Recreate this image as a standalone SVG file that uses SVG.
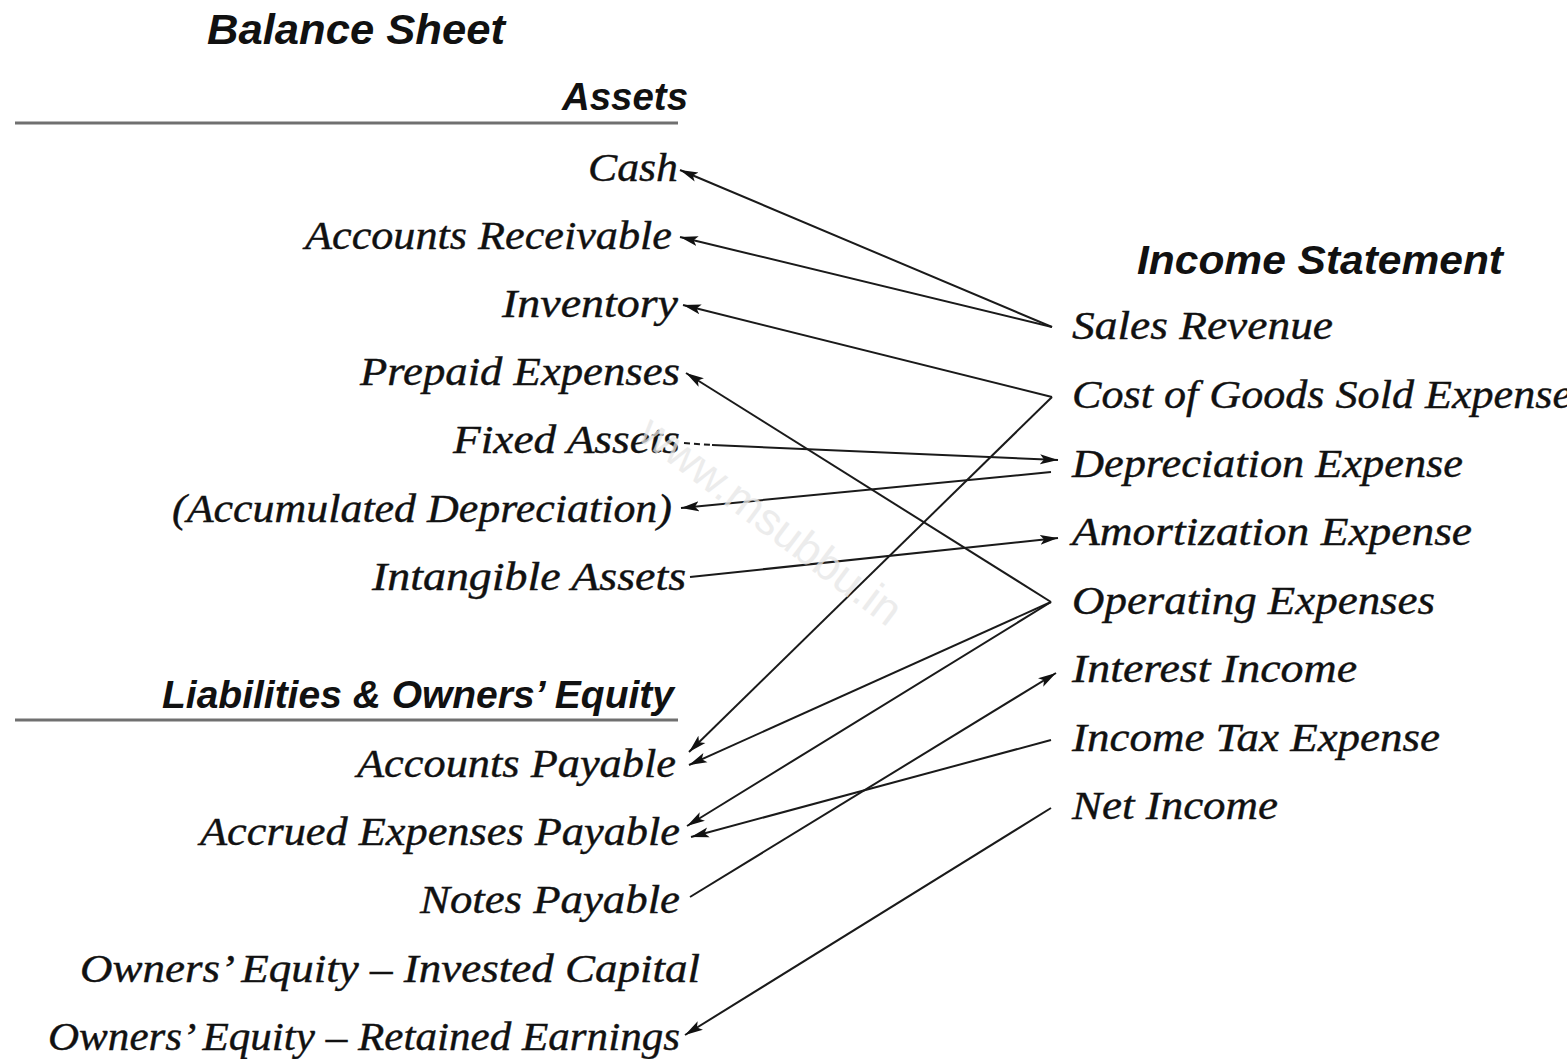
<svg xmlns="http://www.w3.org/2000/svg" width="1567" height="1059" viewBox="0 0 1567 1059">
  <style>
    .head { font-family: "Liberation Sans", Arial, sans-serif; font-weight: bold; font-style: italic; fill: #111; }
    .item { font-family: "Liberation Serif", "Times New Roman", serif; font-style: italic; font-size: 40px; fill: #111; stroke: #111; stroke-width: 0.4; }
    .rule { stroke: #707070; stroke-width: 3; }
    .conn { fill: none; stroke: #1a1a1a; stroke-width: 2; }
    .arrow { marker-end: url(#head); }
    .mark { font-family: "Liberation Sans", Arial, sans-serif; font-size: 45px; fill: #e6e6e6; opacity: 0.75; }
  </style>
  <defs>
    <marker id="head" markerUnits="userSpaceOnUse" markerWidth="20" markerHeight="12" refX="18" refY="6" orient="auto">
      <path d="M0,1 L18,6 L0,11 L4,6 z" fill="#111"/>
    </marker>
  </defs>

  <rect width="1567" height="1059" fill="#ffffff"/>

  <!-- section headings -->
  <g id="balance-sheet">
    <text class="head" x="207" y="44" font-size="43" textLength="298" lengthAdjust="spacingAndGlyphs">Balance Sheet</text>
  </g>
  <g id="assets-heading">
    <text class="head" x="562" y="110" font-size="39" textLength="126" lengthAdjust="spacingAndGlyphs">Assets</text>
    <line class="rule" x1="15" y1="123" x2="678" y2="123"/>
  </g>
  <g id="income-statement">
    <text class="head" x="1137" y="274" font-size="40" textLength="366" lengthAdjust="spacingAndGlyphs">Income Statement</text>
  </g>
  <g id="liabilities-heading">
    <text class="head" x="162" y="708" font-size="39" textLength="512" lengthAdjust="spacingAndGlyphs">Liabilities &amp; Owners’ Equity</text>
    <line class="rule" x1="15" y1="720" x2="678" y2="720"/>
  </g>

  <!-- balance sheet accounts -->
  <g id="cash"><text class="item" x="588" y="181" textLength="90" lengthAdjust="spacingAndGlyphs">Cash</text></g>
  <g id="accounts-receivable"><text class="item" x="305" y="249" textLength="367" lengthAdjust="spacingAndGlyphs">Accounts Receivable</text></g>
  <g id="inventory"><text class="item" x="502" y="317" textLength="176" lengthAdjust="spacingAndGlyphs">Inventory</text></g>
  <g id="prepaid-expenses"><text class="item" x="360" y="385" textLength="320" lengthAdjust="spacingAndGlyphs">Prepaid Expenses</text></g>
  <g id="fixed-assets"><text class="item" x="453" y="453" textLength="227" lengthAdjust="spacingAndGlyphs">Fixed Assets</text></g>
  <g id="accumulated-depreciation"><text class="item" x="172" y="522" textLength="500" lengthAdjust="spacingAndGlyphs">(Accumulated Depreciation)</text></g>
  <g id="intangible-assets"><text class="item" x="372" y="590" textLength="314" lengthAdjust="spacingAndGlyphs">Intangible Assets</text></g>
  <g id="accounts-payable"><text class="item" x="357" y="777" textLength="319" lengthAdjust="spacingAndGlyphs">Accounts Payable</text></g>
  <g id="accrued-expenses-payable"><text class="item" x="200" y="845" textLength="480" lengthAdjust="spacingAndGlyphs">Accrued Expenses Payable</text></g>
  <g id="notes-payable"><text class="item" x="420" y="913" textLength="260" lengthAdjust="spacingAndGlyphs">Notes Payable</text></g>
  <g id="invested-capital"><text class="item" x="80" y="982" textLength="620" lengthAdjust="spacingAndGlyphs">Owners’ Equity – Invested Capital</text></g>
  <g id="retained-earnings"><text class="item" x="48" y="1050" textLength="632" lengthAdjust="spacingAndGlyphs">Owners’ Equity – Retained Earnings</text></g>

  <!-- income statement lines -->
  <g id="sales-revenue"><text class="item" x="1072" y="339" textLength="261" lengthAdjust="spacingAndGlyphs">Sales Revenue</text></g>
  <g id="cogs-expense"><text class="item" x="1072" y="408" textLength="500" lengthAdjust="spacingAndGlyphs">Cost of Goods Sold Expense</text></g>
  <g id="depreciation-expense"><text class="item" x="1072" y="477" textLength="391" lengthAdjust="spacingAndGlyphs">Depreciation Expense</text></g>
  <g id="amortization-expense"><text class="item" x="1072" y="545" textLength="400" lengthAdjust="spacingAndGlyphs">Amortization Expense</text></g>
  <g id="operating-expenses"><text class="item" x="1072" y="614" textLength="363" lengthAdjust="spacingAndGlyphs">Operating Expenses</text></g>
  <g id="interest-income"><text class="item" x="1072" y="682" textLength="285" lengthAdjust="spacingAndGlyphs">Interest Income</text></g>
  <g id="income-tax-expense"><text class="item" x="1072" y="751" textLength="368" lengthAdjust="spacingAndGlyphs">Income Tax Expense</text></g>
  <g id="net-income"><text class="item" x="1072" y="819" textLength="206" lengthAdjust="spacingAndGlyphs">Net Income</text></g>

  <!-- connectors between the two statements -->
  <g id="connectors">
    <path class="conn arrow" d="M1052,327 L680,170"/>
    <path class="conn arrow" d="M1052,327 L680,237"/>
    <path class="conn arrow" d="M1052,397 L683,305"/>
    <path class="conn arrow" d="M1052,397 L689,752"/>
    <path class="conn arrow" d="M1051,602 L686,373"/>
    <path class="conn" stroke-dasharray="6 4" d="M684,443 L712,445"/>
    <path class="conn arrow" d="M712,445 L1058,460"/>
    <path class="conn arrow" d="M1051,472 L681,508"/>
    <path class="conn arrow" d="M690,577 L1058,538"/>
    <path class="conn arrow" d="M1051,602 L689,765"/>
    <path class="conn arrow" d="M1051,602 L687,826"/>
    <path class="conn arrow" d="M1051,740 L691,837"/>
    <path class="conn arrow" d="M690,897 L1056,673"/>
    <path class="conn arrow" d="M1051,808 L685,1035"/>
  </g>

  <!-- faint site mark -->
  <text class="mark" x="636" y="438" transform="rotate(37 636 438)">www.msubbu.in</text>
</svg>
